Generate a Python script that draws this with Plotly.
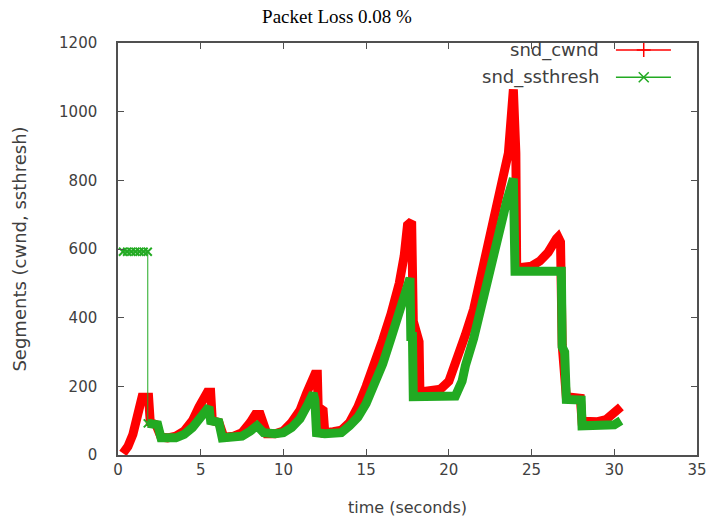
import plotly.graph_objects as go

# ---- data ----
cwnd_t = [0.3, 0.6, 0.9, 1.1, 1.3, 1.45, 1.85, 1.95, 2.3, 2.5, 2.6, 3.0, 3.5, 4.0, 4.5, 4.9,
          5.2, 5.4, 5.6, 5.7, 6.1, 6.2, 6.4, 7.0, 7.5, 8.0, 8.3, 8.6, 8.8, 9.0, 9.5, 10.0,
          10.5, 11.0, 11.4, 11.7, 11.9, 12.05, 12.1, 12.4, 12.5, 13.0, 13.5, 14.0, 14.5,
          15.0, 15.5, 16.0, 16.5, 17.0, 17.3, 17.5, 17.75, 17.85, 18.2, 18.25, 18.5, 19.0,
          19.5, 20.0, 20.5, 21.0, 21.5, 22.0, 22.5, 23.0, 23.3, 23.6, 23.9, 24.05, 24.1,
          24.5, 25.0, 25.5, 26.0, 26.5, 26.6, 26.75, 26.85, 27.1, 27.6, 27.95, 28.05,
          28.5, 29.0, 29.5, 30.0, 30.4]
cwnd_v = [5, 25, 60, 95, 135, 168, 168, 95, 88, 65, 52, 50, 55, 70, 100, 140,
          170, 183, 183, 100, 95, 70, 52, 55, 65, 95, 118, 118, 80, 62, 62, 70,
          95, 130, 180, 220, 235, 235, 140, 130, 65, 68, 72, 95, 140,
          200, 260, 335, 410, 500, 580, 670, 680, 390, 330, 185, 185, 188,
          192, 215, 275, 350, 425, 530, 650, 760, 830, 880, 1065, 880, 545,
          545, 550, 565, 590, 630, 635, 620, 320, 170, 165, 165, 98,
          95, 97, 103, 120, 140]

ssth_init_t = [0.3, 0.55, 0.8, 1.05, 1.3, 1.55, 1.8, 1.8]
ssth_init_v = [592, 592, 592, 592, 592, 592, 592, 92]

ssth_t = [1.8, 2.4, 2.6, 3.0, 3.5, 4.0, 4.5, 5.0, 5.3, 5.5, 5.6, 6.1, 6.3, 7.0, 7.5, 8.0,
          8.4, 8.6, 8.8, 9.5, 10.0, 10.5, 11.0, 11.5, 11.8, 11.9, 12.0, 12.5, 13.0, 13.5,
          14.0, 14.5, 15.0, 15.5, 16.0, 16.5, 17.0, 17.3, 17.65, 17.7, 17.8, 17.85, 18.5,
          19.5, 20.4, 20.8, 21.0, 21.5, 22.0, 22.5, 23.0, 23.5, 23.9, 24.0, 25.0, 26.0,
          26.8, 26.85, 27.0, 27.1, 27.6, 28.0, 28.05, 29.0, 30.0, 30.4]
ssth_v = [92, 88, 50, 48, 50, 60, 80, 110, 135, 140, 100, 95, 50, 50, 55, 70,
          85, 75, 65, 62, 65, 80, 105, 150, 180, 160, 65, 62, 62, 65,
          85, 110, 150, 200, 265, 340, 410, 460, 515, 345, 345, 170, 170,
          170, 172, 215, 260, 340, 440, 555, 650, 740, 805, 535, 535, 535,
          535, 315, 300, 162, 160, 160, 85, 85, 88, 100]

x_ticks = [0, 5, 10, 15, 20, 25, 30, 35]
y_ticks = [0, 200, 400, 600, 800, 1000, 1200]
legend_names = ["snd_cwnd", "snd_ssthresh"]

RED = "#ff0000"
GREEN = "#22aa22"
AXC = "#505050"
TXT = "#404040"
FONT = "DejaVu Sans"

fig = go.Figure()

fig.add_trace(go.Scatter(x=cwnd_t, y=cwnd_v, mode="lines",
                         line=dict(color=RED, width=9), showlegend=False))
fig.add_trace(go.Scatter(x=ssth_init_t, y=ssth_init_v, mode="lines+markers",
                         line=dict(color=GREEN, width=1),
                         marker=dict(symbol="x-thin", size=8, line=dict(color=GREEN, width=2)),
                         showlegend=False))
fig.add_trace(go.Scatter(x=ssth_t, y=ssth_v, mode="lines",
                         line=dict(color=GREEN, width=9), showlegend=False))

# manual gnuplot-style legend (text left, sample right) on an overlay axis
leg_y = [0.983, 0.917]
leg_col = [RED, GREEN]
leg_sym = ["cross-thin", "x-thin"]
for i in range(2):
    fig.add_trace(go.Scatter(x=[0.860, 0.955], y=[leg_y[i], leg_y[i]], xaxis="x2", yaxis="y2",
                             mode="lines", line=dict(color=leg_col[i], width=1.5),
                             showlegend=False, hoverinfo="skip"))
    fig.add_trace(go.Scatter(x=[0.908], y=[leg_y[i]], xaxis="x2", yaxis="y2",
                             mode="markers",
                             marker=dict(symbol=leg_sym[i], size=10,
                                         line=dict(color=leg_col[i], width=1.5)),
                             showlegend=False, hoverinfo="skip"))
    fig.add_annotation(x=0.834, y=leg_y[i], xref="x2", yref="y2", text=legend_names[i],
                       showarrow=False, xanchor="right", yanchor="middle",
                       font=dict(family=FONT, size=18, color=TXT))

fig.update_layout(
    width=711, height=518,
    margin=dict(l=118, r=14, t=43, b=63),
    paper_bgcolor="white", plot_bgcolor="white",
    showlegend=False,
    title=dict(text="Packet Loss 0.08 %", x=337 / 711, xanchor="center",
               y=1 - 16 / 518, yanchor="middle", yref="container",
               font=dict(family="Liberation Serif", size=19, color="black")),
    xaxis=dict(range=[0, 35], tickvals=x_ticks, ticks="inside", ticklen=6,
               tickcolor=AXC, showline=True, linecolor=AXC, linewidth=1.5, mirror="ticks",
               showgrid=False, zeroline=False, ticklabelstandoff=0, automargin=False,
               tickfont=dict(family=FONT, size=15, color=TXT),
               title=dict(text="time (seconds)", standoff=24,
                          font=dict(family=FONT, size=16, color=TXT))),
    yaxis=dict(range=[0, 1200], tickvals=y_ticks, ticks="inside", ticklen=6,
               tickcolor=AXC, showline=True, linecolor=AXC, linewidth=1.5, mirror="ticks",
               showgrid=False, zeroline=False, ticklabelstandoff=16, automargin=False,
               tickfont=dict(family=FONT, size=15, color=TXT),
               title=dict(text="Segments (cwnd, ssthresh)", standoff=28,
                          font=dict(family=FONT, size=18, color=TXT))),
    xaxis2=dict(range=[0, 1], overlaying="x", visible=False, fixedrange=True),
    yaxis2=dict(range=[0, 1], overlaying="y", visible=False, fixedrange=True),
)

fig.write_html("out.html")
